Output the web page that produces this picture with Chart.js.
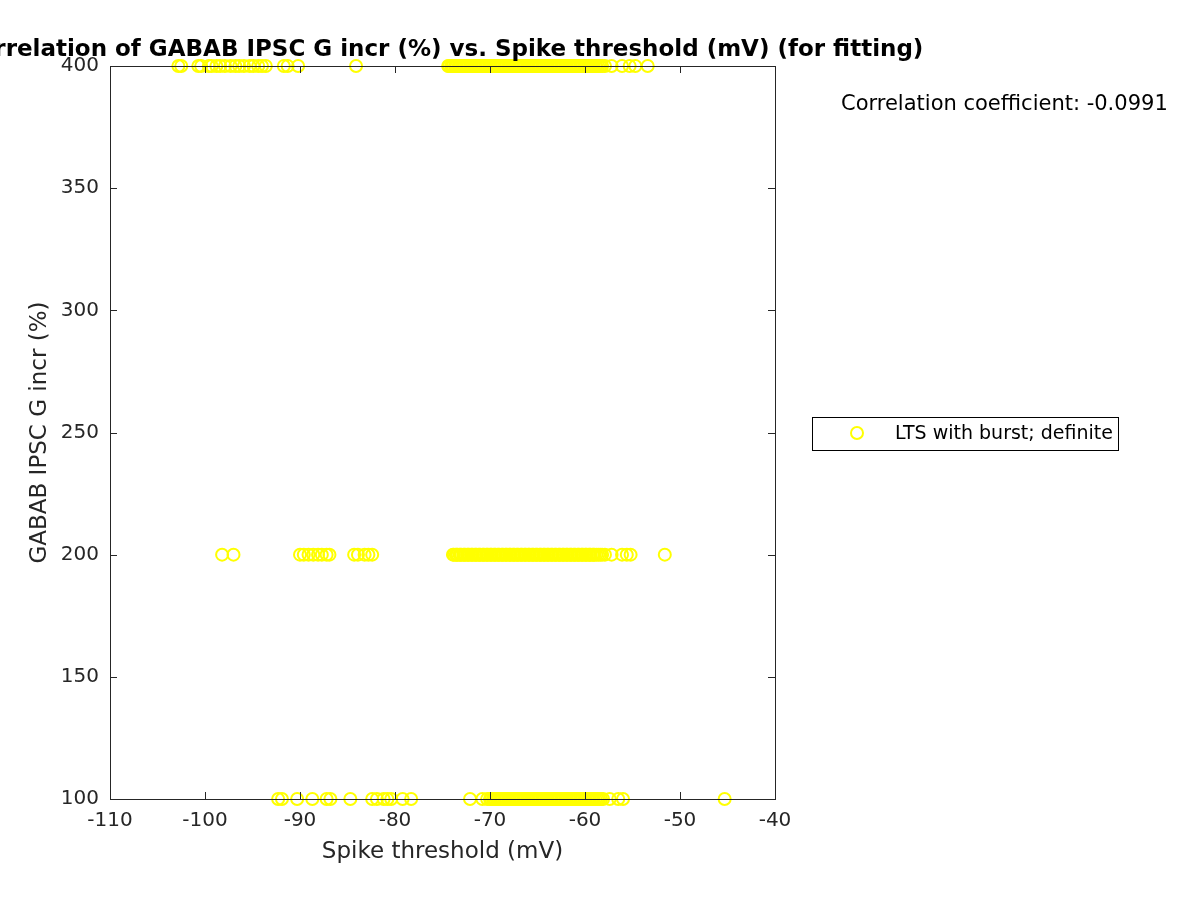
<!DOCTYPE html>
<html>
<head>
<meta charset="utf-8">
<script src="https://cdn.jsdelivr.net/npm/chart.js@4/dist/chart.umd.min.js"></script>
<style>
  html, body { margin: 0; padding: 0; background: #fff; }
  #wrap { width: 1200px; height: 900px; }
</style>
</head>
<body>
<div id="wrap"><canvas id="chart-canvas" width="1200" height="900"></canvas></div>
<script>
// values
const xTicks = [-110, -100, -90, -80, -70, -60, -50, -40];
const yTicks = [100, 150, 200, 250, 300, 350, 400];

const thr400 = [
  -102.8, -102.5, -100.7, -100.4, -99.6, -99.3, -98.8, -98.4, -97.9, -97.3, -96.8, -96.4,
  -95.9, -95.3, -94.9, -94.4, -94.0, -93.6, -91.7, -91.3, -90.2, -84.1,
  -74.4, -74.3, -74.1, -74.0, -73.9, -73.7, -73.6, -73.5, -73.3, -73.2, -73.1, -72.9,
  -72.8, -72.7, -72.5, -72.4, -72.3, -72.1, -72.0, -71.9, -71.7, -71.6, -71.5, -71.3,
  -71.2, -71.1, -70.9, -70.8, -70.7, -70.5, -70.4, -70.3, -70.1, -70.0, -69.9, -69.7,
  -69.6, -69.5, -69.3, -69.2, -69.1, -68.9, -68.8, -68.7, -68.5, -68.4, -68.3, -68.1,
  -68.0, -67.9, -67.7, -67.6, -67.5, -67.3, -67.2, -67.1, -66.9, -66.8, -66.7, -66.5,
  -66.4, -66.3, -66.1, -66.0, -65.9, -65.7, -65.6, -65.5, -65.3, -65.2, -65.1, -64.9,
  -64.8, -64.7, -64.5, -64.4, -64.3, -64.1, -64.0, -63.9, -63.7, -63.6, -63.5, -63.3,
  -63.2, -63.1, -62.9, -62.8, -62.7, -62.5, -62.4, -62.3, -62.1, -62.0, -61.9, -61.7,
  -61.6, -61.5, -61.3, -61.2, -61.1, -60.9, -60.8, -60.7, -60.5, -60.4, -60.3, -60.1,
  -60.0, -59.9, -59.7, -59.6, -59.5, -59.3, -59.2, -59.1, -58.9, -58.8, -58.6, -58.4,
  -58.2, -57.9,
  -57.2, -56.1, -55.3, -54.7, -53.4
];
const thr200 = [
  -98.2, -97.0, -90.0, -89.6, -89.1, -88.6, -88.1, -87.7, -87.2, -86.9,
  -84.3, -83.9, -83.2, -82.8, -82.4,
  -73.9, -73.8, -73.6, -73.5, -73.4, -73.2, -73.1, -73.0, -72.8, -72.7, -72.6, -72.4,
  -72.3, -72.2, -72.0, -71.9, -71.8, -71.6, -71.5, -71.4, -71.2, -71.1, -71.0, -70.8,
  -70.7, -70.6, -70.4, -70.3, -70.2, -70.0, -69.9, -69.8, -69.6, -69.5, -69.4, -69.2,
  -69.1, -69.0, -68.8, -68.7, -68.6, -68.4, -68.3, -68.2, -68.0, -67.9, -67.8, -67.6,
  -67.5, -67.4, -67.2, -67.1, -67.0, -66.8, -66.7, -66.6, -66.4, -66.3, -66.2, -66.0,
  -65.9, -65.8, -65.6, -65.5, -65.4, -65.2, -65.1, -65.0, -64.8, -64.7, -64.6, -64.4,
  -64.3, -64.2, -64.0, -63.9, -63.8, -63.6, -63.5, -63.4, -63.2, -63.1, -63.0, -62.8,
  -62.7, -62.6, -62.4, -62.3, -62.2, -62.0, -61.9, -61.8, -61.6, -61.5, -61.4, -61.2,
  -61.1, -61.0, -60.8, -60.7, -60.6, -60.4, -60.3, -60.2, -60.0, -59.9, -59.8, -59.6,
  -59.5, -59.4, -59.2, -59.1, -59.0, -58.8, -58.6, -58.4, -58.2, -57.9,
  -57.2, -56.1, -55.6, -55.2, -51.6
];
const thr100 = [
  -92.3, -91.9, -90.3, -88.7, -87.2, -86.8, -84.7, -82.4, -81.9, -81.2, -80.8, -80.4,
  -79.2, -78.3,
  -72.1, -70.8, -70.3, -70.0, -69.9, -69.7, -69.6, -69.5, -69.3, -69.2, -69.1, -68.9,
  -68.8, -68.7, -68.5, -68.4, -68.3, -68.1, -68.0, -67.9, -67.7, -67.6, -67.5, -67.3,
  -67.2, -67.1, -66.9, -66.8, -66.7, -66.5, -66.4, -66.3, -66.1, -66.0, -65.9, -65.7,
  -65.6, -65.5, -65.3, -65.2, -65.1, -64.9, -64.8, -64.7, -64.5, -64.4, -64.3, -64.1,
  -64.0, -63.9, -63.7, -63.6, -63.5, -63.3, -63.2, -63.1, -62.9, -62.8, -62.7, -62.5,
  -62.4, -62.3, -62.1, -62.0, -61.9, -61.7, -61.6, -61.5, -61.3, -61.2, -61.1, -60.9,
  -60.8, -60.7, -60.5, -60.4, -60.3, -60.1, -60.0, -59.9, -59.7, -59.6, -59.5, -59.3,
  -59.2, -59.1, -58.9, -58.7, -58.5, -58.3, -58.1,
  -57.4, -56.5, -56.0, -45.3
];

const titleText = 'Correlation of GABAB IPSC G incr (%) vs. Spike threshold (mV) (for fitting)';
const corrText = 'Correlation coefficient: -0.0991';
const legendText = 'LTS with burst; definite';

const axisColor = '#262626';
const markColor = '#ffff00';
const fontFamily = '"DejaVu Sans", sans-serif';

const points = [];
thr400.forEach(v => points.push({ x: v, y: 400 }));
thr200.forEach(v => points.push({ x: v, y: 200 }));
thr100.forEach(v => points.push({ x: v, y: 100 }));

// box, inner ticks, title, correlation text and legend in MATLAB style
const decor = {
  id: 'decor',
  afterDatasetsDraw(chart) {
    const { ctx, chartArea: a, scales } = chart;
    ctx.save();
    ctx.strokeStyle = axisColor;
    ctx.lineWidth = 1;
    ctx.strokeRect(a.left + 0.5, a.top + 0.5, a.right - a.left, a.bottom - a.top);
    ctx.beginPath();
    xTicks.forEach(t => {
      const px = Math.round(scales.x.getPixelForValue(t)) + 0.5;
      ctx.moveTo(px, a.bottom); ctx.lineTo(px, a.bottom - 7);
      ctx.moveTo(px, a.top); ctx.lineTo(px, a.top + 7);
    });
    yTicks.forEach(t => {
      const py = Math.round(scales.y.getPixelForValue(t)) + 0.5;
      ctx.moveTo(a.left, py); ctx.lineTo(a.left + 7, py);
      ctx.moveTo(a.right, py); ctx.lineTo(a.right - 7, py);
    });
    ctx.stroke();

    ctx.fillStyle = '#000';
    ctx.font = 'bold 23px ' + fontFamily;
    ctx.textAlign = 'center';
    ctx.textBaseline = 'alphabetic';
    ctx.fillText(titleText, (a.left + a.right) / 2, 56);

    ctx.font = '21px ' + fontFamily;
    ctx.textAlign = 'left';
    ctx.fillText(corrText, 841, 110);

    // legend
    ctx.fillStyle = '#fff';
    ctx.fillRect(812, 417, 306, 33);
    ctx.strokeStyle = '#000';
    ctx.strokeRect(812.5, 417.5, 306, 33);
    ctx.strokeStyle = markColor;
    ctx.lineWidth = 2;
    ctx.beginPath();
    ctx.arc(857, 433, 6, 0, Math.PI * 2);
    ctx.stroke();
    ctx.fillStyle = '#000';
    ctx.font = '19px ' + fontFamily;
    ctx.textBaseline = 'middle';
    ctx.fillText(legendText, 895, 434);
    ctx.restore();
  }
};

new Chart(document.getElementById('chart-canvas').getContext('2d'), {
  type: 'scatter',
  data: {
    datasets: [{
      label: legendText,
      data: points,
      pointStyle: 'circle',
      pointRadius: 6,
      pointHoverRadius: 6,
      borderWidth: 2,
      borderColor: markColor,
      backgroundColor: 'rgba(0,0,0,0)',
      clip: false
    }]
  },
  options: {
    responsive: false,
    animation: false,
    events: [],
    layout: { padding: { left: 0, right: 425, top: 66, bottom: 0 } },
    plugins: { legend: { display: false }, tooltip: { enabled: false }, title: { display: false } },
    scales: {
      x: {
        type: 'linear', min: -110, max: -40,
        afterBuildTicks: s => { s.ticks = xTicks.map(v => ({ value: v })); },
        afterFit: s => { s.height = 101; },
        grid: { display: false, drawTicks: false },
        border: { display: false },
        ticks: { color: axisColor, font: { family: fontFamily, size: 20 }, padding: 10, maxRotation: 0 },
        title: { display: true, text: 'Spike threshold (mV)', color: axisColor,
                 font: { family: fontFamily, size: 23 }, padding: { top: 0, bottom: 34 } }
      },
      y: {
        type: 'linear', min: 100, max: 400,
        afterBuildTicks: s => { s.ticks = yTicks.map(v => ({ value: v })); },
        afterFit: s => { s.width = 110; },
        grid: { display: false, drawTicks: false },
        border: { display: false },
        ticks: { color: axisColor, font: { family: fontFamily, size: 20 }, padding: 11 },
        title: { display: true, text: 'GABAB IPSC G incr (%)', color: axisColor,
                 font: { family: fontFamily, size: 23 }, padding: { top: 26, bottom: 0 } }
      }
    }
  },
  plugins: [decor]
});
</script>
</body>
</html>
